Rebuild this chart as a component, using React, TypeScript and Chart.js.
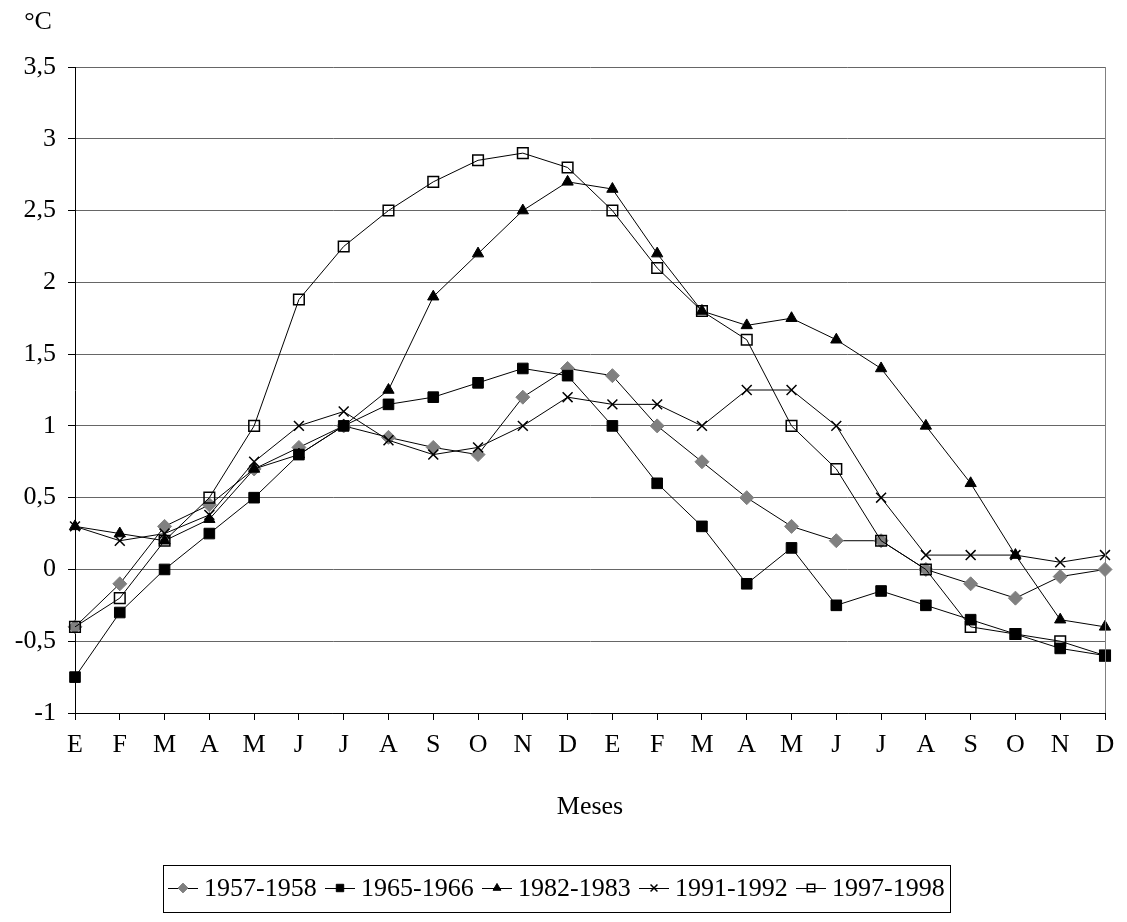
import React, { useEffect, useRef } from "react";
import { Chart, registerables } from "chart.js";
import { drawPoint } from "chart.js/helpers";

Chart.register(...registerables);

const months = ["E", "F", "M", "A", "M", "J", "J", "A", "S", "O", "N", "D", "E", "F", "M", "A", "M", "J", "J", "A", "S", "O", "N", "D"];

const s1957 = [-0.4, -0.1, 0.3, 0.45, 0.7, 0.85, 1.0, 0.92, 0.85, 0.8, 1.2, 1.4, 1.35, 1.0, 0.75, 0.5, 0.3, 0.2, 0.2, 0.0, -0.1, -0.2, -0.05, 0.0];
const s1965 = [-0.75, -0.3, 0.0, 0.25, 0.5, 0.8, 1.0, 1.15, 1.2, 1.3, 1.4, 1.35, 1.0, 0.6, 0.3, -0.1, 0.15, -0.25, -0.15, -0.25, -0.35, -0.45, -0.55, -0.6];
const s1982 = [0.3, 0.25, 0.2, 0.35, 0.7, 0.8, 1.0, 1.25, 1.9, 2.2, 2.5, 2.7, 2.65, 2.2, 1.8, 1.7, 1.75, 1.6, 1.4, 1.0, 0.6, 0.1, -0.35, -0.4];
const s1991 = [0.3, 0.2, 0.25, 0.38, 0.75, 1.0, 1.1, 0.9, 0.8, 0.85, 1.0, 1.2, 1.15, 1.15, 1.0, 1.25, 1.25, 1.0, 0.5, 0.1, 0.1, 0.1, 0.05, 0.1];
const s1997 = [-0.4, -0.2, 0.2, 0.5, 1.0, 1.88, 2.25, 2.5, 2.7, 2.85, 2.9, 2.8, 2.5, 2.1, 1.8, 1.6, 1.0, 0.7, 0.2, 0.0, -0.4, -0.45, -0.5, -0.6];

const seriesNames = ["1957-1958", "1965-1966", "1982-1983", "1991-1992", "1997-1998"];

const FONT = "'Liberation Serif', 'Times New Roman', serif";
const FS = 26;

const styles = [
  { pointStyle: "rectRot", radius: 7, fill: "#808080", stroke: "#808080", bw: 1 },
  { pointStyle: "rect", radius: 7.5, fill: "#000000", stroke: "#000000", bw: 1 },
  { pointStyle: "triangle", radius: 6.5, fill: "#000000", stroke: "#000000", bw: 1 },
  { pointStyle: "crossRot", radius: 7, fill: "#000000", stroke: "#000000", bw: 1.5 },
  { pointStyle: "rect", radius: 7.5, fill: "rgba(0,0,0,0)", stroke: "#000000", bw: 1.5 },
];

const extrasPlugin = {
  id: "extras",
  afterDraw(chart: any) {
    const ctx = chart.ctx;
    const a = chart.chartArea;
    ctx.save();
    // right border
    ctx.strokeStyle = "#808080";
    ctx.lineWidth = 1;
    ctx.beginPath();
    ctx.moveTo(Math.round(a.right) + 0.5, a.top);
    ctx.lineTo(Math.round(a.right) + 0.5, a.bottom);
    ctx.stroke();
    // unit label
    ctx.fillStyle = "#000";
    ctx.font = `${FS}px ${FONT}`;
    ctx.textAlign = "center";
    ctx.textBaseline = "middle";
    ctx.fillText("°C", 38, 22);
    // legend box
    const bx = 163, by = 865, bw = 787, bh = 47;
    ctx.strokeStyle = "#000";
    ctx.lineWidth = 1;
    ctx.strokeRect(bx + 0.5, by + 0.5, bw, bh);
    const ly = by + 23;
    seriesNames.forEach((name, i) => {
      const x0 = bx + 5 + i * 157;
      ctx.strokeStyle = "#000";
      ctx.lineWidth = 1;
      ctx.beginPath();
      ctx.moveTo(x0, ly + 0.5);
      ctx.lineTo(x0 + 30, ly + 0.5);
      ctx.stroke();
      const st = styles[i];
      ctx.fillStyle = st.fill;
      ctx.strokeStyle = st.stroke;
      ctx.lineWidth = st.bw;
      drawPoint(ctx, { pointStyle: st.pointStyle, radius: st.radius * 0.7, rotation: 0, borderWidth: st.bw }, x0 + 15, ly);
      ctx.fillStyle = "#000";
      ctx.textAlign = "left";
      ctx.textBaseline = "middle";
      ctx.font = `${FS}px ${FONT}`;
      ctx.fillText(name, x0 + 36, ly + 1);
    });
    ctx.restore();
  },
};

export default function App() {
  const ref = useRef<HTMLCanvasElement>(null);
  useEffect(() => {
    const all = [s1957, s1965, s1982, s1991, s1997];
    const chart = new Chart(ref.current as HTMLCanvasElement, {
      type: "line",
      data: {
        labels: months,
        datasets: all.map((d, i) => ({
          label: seriesNames[i],
          data: d,
          borderColor: "#000",
          borderWidth: 1,
          pointStyle: styles[i].pointStyle as any,
          pointRadius: styles[i].radius,
          pointBackgroundColor: styles[i].fill,
          pointBorderColor: styles[i].stroke,
          pointBorderWidth: styles[i].bw,
          tension: 0,
          fill: false,
          order: 5 - i,
        })),
      },
      options: {
        responsive: false,
        animation: false,
        devicePixelRatio: 1,
        layout: { padding: { top: 67, right: 22, bottom: 92, left: 0 } },
        plugins: { legend: { display: false }, tooltip: { enabled: false } },
        scales: {
          x: {
            type: "category",
            offset: false,
            afterFit: (s: any) => { s.height = 117; },
            grid: { drawOnChartArea: false, drawTicks: true, tickLength: 7, color: "#000" },
            border: { color: "#000", width: 1 },
            ticks: { color: "#000", font: { family: FONT, size: FS }, padding: 10, maxRotation: 0, autoSkip: false },
            title: { display: true, text: "Meses", color: "#000", font: { family: FONT, size: FS }, padding: { top: 0, bottom: 7 } },
          },
          y: {
            min: -1,
            max: 3.5,
            afterFit: (s: any) => { s.width = 75; },
            grid: { color: "#666", drawTicks: true, tickLength: 7, tickColor: "#000" },
            border: { color: "#000", width: 1 },
            ticks: {
              stepSize: 0.5,
              color: "#000",
              font: { family: FONT, size: FS },
              padding: 12,
              callback: (v: any) => String(Number(v)).replace(".", ","),
            },
          },
        },
      },
      plugins: [extrasPlugin],
    });
    return () => chart.destroy();
  }, []);
  return (
    <div style={{ position: "fixed", left: 0, top: 0, width: 1127, height: 922, background: "#fff" }}>
      <canvas ref={ref} width={1127} height={922} />
    </div>
  );
}
